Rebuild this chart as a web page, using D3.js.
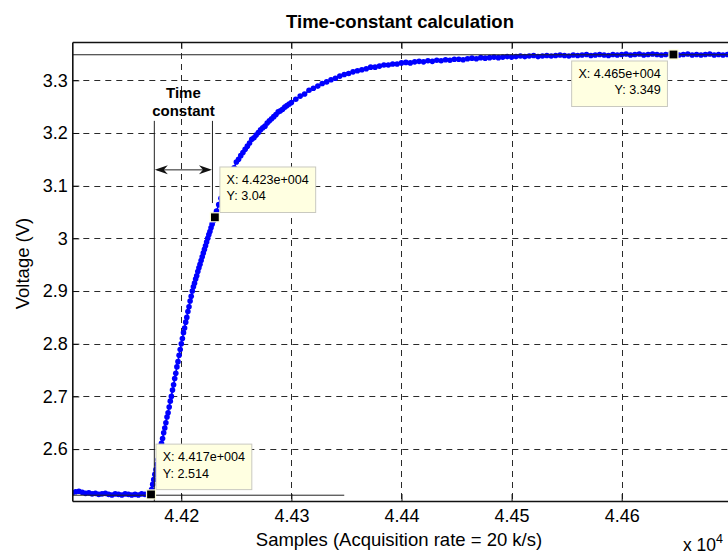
<!DOCTYPE html>
<html>
<head>
<meta charset="utf-8">
<script src="https://cdn.jsdelivr.net/npm/d3@7"></script>
<style>
  html, body { margin: 0; padding: 0; background: #fff; }
  svg { display: block; }
  text { font-family: "Liberation Sans", Arial, Helvetica, sans-serif; fill: #000; }
</style>
</head>
<body>
<svg id="chart" width="728" height="555"></svg>
<script>
// ---------------- DATA ----------------
const titleText = "Time-constant calculation";
const xLabelText = "Samples (Acquisition rate = 20 k/s)";
const yLabelText = "Voltage (V)";

const xTicks = [44200, 44300, 44400, 44500, 44600];
const xTickLabels = ["4.42", "4.43", "4.44", "4.45", "4.46"];
const yTicks = [2.6, 2.7, 2.8, 2.9, 3.0, 3.1, 3.2, 3.3];
const yTickLabels = ["2.6", "2.7", "2.8", "2.9", "3", "3.1", "3.2", "3.3"];

// baseline segment: samples 44101..44170, every 3rd sample
const baseStart = 44101, baseStep = 3;
const baseVolts = [2.517, 2.519, 2.520, 2.518, 2.516, 2.517, 2.515, 2.516, 2.514, 2.515,
                   2.516, 2.514, 2.513, 2.515, 2.514, 2.513, 2.515, 2.514, 2.513, 2.514,
                   2.513, 2.515, 2.514, 2.513];
// rise segment: samples 44171..44232, every sample
const riseStart = 44171, riseStep = 1;
const riseVolts = [2.515, 2.514, 2.523, 2.533, 2.542, 2.552, 2.561, 2.571, 2.580, 2.590,
                   2.600, 2.611, 2.620, 2.631, 2.640, 2.650, 2.661, 2.669, 2.680, 2.691,
                   2.700, 2.712, 2.722, 2.734, 2.744, 2.756, 2.766, 2.778, 2.789, 2.800,
                   2.810, 2.821, 2.830, 2.841, 2.850, 2.861, 2.870, 2.881, 2.890, 2.900,
                   2.908, 2.915, 2.923, 2.929, 2.937, 2.944, 2.951, 2.958, 2.965, 2.972,
                   2.979, 2.986, 2.993, 3.000, 3.007, 3.013, 3.020, 3.027, 3.033, 3.040,
                   3.046, 3.052];
// knee segment: samples 44234..44300, every 2nd sample
const kneeStart = 44234, kneeStep = 2;
const kneeVolts = [3.064, 3.076, 3.088, 3.100, 3.108, 3.117, 3.126, 3.134, 3.145, 3.150,
                   3.157, 3.163, 3.169, 3.175, 3.181, 3.188, 3.191, 3.196, 3.201, 3.206,
                   3.210, 3.213, 3.219, 3.223, 3.227, 3.231, 3.235, 3.240, 3.242, 3.245,
                   3.249, 3.252, 3.255, 3.258];
// plateau segment: samples 44304..44700, every 4th sample
const topStart = 44304, topStep = 4;
const topVolts = [3.264, 3.270, 3.274, 3.281, 3.285, 3.289, 3.294, 3.297, 3.301, 3.304,
                  3.308, 3.311, 3.313, 3.316, 3.318, 3.320, 3.322, 3.325, 3.325, 3.327,
                  3.329, 3.329, 3.331, 3.331, 3.333, 3.334, 3.333, 3.335, 3.336, 3.335,
                  3.337, 3.336, 3.338, 3.337, 3.339, 3.338, 3.340, 3.340, 3.339, 3.341,
                  3.342, 3.341, 3.343, 3.342, 3.343, 3.344, 3.343, 3.344, 3.345, 3.344,
                  3.345, 3.346, 3.345, 3.346, 3.347, 3.345, 3.346, 3.347, 3.346, 3.347,
                  3.348, 3.347, 3.346, 3.348, 3.347, 3.348, 3.349, 3.347, 3.348, 3.349,
                  3.348, 3.347, 3.349, 3.348, 3.349, 3.350, 3.348, 3.349, 3.350, 3.348,
                  3.349, 3.350, 3.349, 3.348, 3.349, 3.350, 3.349, 3.348, 3.349, 3.350,
                  3.348, 3.349, 3.348, 3.349, 3.350, 3.348, 3.349, 3.348, 3.349, 3.348];

// data tips (sample, voltage, placement)
const tipSamples = [44647, 44230.5, 44172.5];
const tipVolts = [3.349, 3.04, 2.514];
const tipPlacement = ["leftBelow", "rightAbove", "rightAbove"];

// annotation (data units)
const tcStartSample = 44175.5, tcEndSample = 44228.3;
const tcTopVolt = 3.223, tcEndBottomVolt = 3.067, tcArrowVolt = 3.130;
const finalLevel = 3.3485, initialLevel = 2.5125, initialLevelEnd = 44348;

// ---------------- BUILD ----------------
function seg(start, step, vals) { return vals.map((v, i) => ({ s: start + i * step, v })); }
const points = [].concat(
  seg(baseStart, baseStep, baseVolts),
  seg(riseStart, riseStep, riseVolts),
  seg(kneeStart, kneeStep, kneeVolts),
  seg(topStart, topStep, topVolts)
);

const svg = d3.select("#chart");
const L = 72.3, R = 731.8, T = 42, B = 501;
const x = d3.scaleLinear().domain([44101, 44700]).range([L, R]);
const y = d3.scaleLinear().domain([2.5015, 3.3727]).range([B, T]);

svg.append("defs").append("clipPath").attr("id", "plotclip")
  .append("rect").attr("x", L).attr("y", T).attr("width", R - L).attr("height", B - T);

// grid
const grid = svg.append("g").attr("stroke", "#2a2a2a").attr("stroke-width", 1).attr("stroke-dasharray", "6,5");
grid.selectAll("line.h").data(yTicks).join("line")
  .attr("x1", L).attr("x2", R).attr("y1", d => Math.round(y(d)) + 0.5).attr("y2", d => Math.round(y(d)) + 0.5);
grid.selectAll("line.v").data(xTicks).join("line")
  .attr("y1", T).attr("y2", B).attr("x1", d => Math.round(x(d)) + 0.5).attr("x2", d => Math.round(x(d)) + 0.5);

// curve
const plot = svg.append("g").attr("clip-path", "url(#plotclip)");
plot.append("path").datum(points)
  .attr("fill", "none").attr("stroke", "#0000ff").attr("stroke-width", 1.6)
  .attr("d", d3.line().x(d => x(d.s)).y(d => y(d.v)));
plot.selectAll("circle").data(points).join("circle")
  .attr("cx", d => x(d.s)).attr("cy", d => y(d.v)).attr("r", 2.8).attr("fill", "#0000ff");

// guide lines
const ann = svg.append("g").attr("stroke", "#222").attr("stroke-width", 1).attr("fill", "none");
ann.append("line").attr("x1", L).attr("x2", R).attr("y1", y(finalLevel)).attr("y2", y(finalLevel));
ann.append("line").attr("x1", L).attr("x2", x(initialLevelEnd)).attr("y1", y(initialLevel)).attr("y2", y(initialLevel));
ann.append("line").attr("x1", x(tcStartSample)).attr("x2", x(tcStartSample)).attr("y1", y(tcTopVolt)).attr("y2", B);
ann.append("line").attr("x1", x(tcEndSample)).attr("x2", x(tcEndSample)).attr("y1", y(tcTopVolt)).attr("y2", y(tcEndBottomVolt));
// double arrow
const ax1 = x(tcStartSample), ax2 = x(tcEndSample), ay = y(tcArrowVolt);
ann.append("line").attr("x1", ax1 + 3).attr("x2", ax2 - 3).attr("y1", ay).attr("y2", ay);
function head(tx, dir) {
  const p = d3.path();
  p.moveTo(tx, ay); p.lineTo(tx + dir * 13, ay - 4.5); p.lineTo(tx + dir * 9, ay); p.lineTo(tx + dir * 13, ay + 4.5); p.closePath();
  return p.toString();
}
svg.append("path").attr("d", head(ax1 + 0.5, 1)).attr("fill", "#111");
svg.append("path").attr("d", head(ax2 - 0.5, -1)).attr("fill", "#111");

// "Time constant" label
const tcx = (ax1 + ax2) / 2;
svg.append("text").attr("x", tcx).attr("y", 97.5).attr("text-anchor", "middle")
  .attr("font-size", 15).attr("font-weight", "bold").text("Time");
svg.append("text").attr("x", tcx).attr("y", 116).attr("text-anchor", "middle")
  .attr("font-size", 15).attr("font-weight", "bold").text("constant");

// data tips
function fmtX(s) {
  const e = s.toExponential(3);
  const [m, ex] = e.split("e");
  const sign = ex[0] === "-" ? "-" : "+";
  const digits = ex.replace(/[+-]/, "").padStart(3, "0");
  return m + "e" + sign + digits;
}
const fmtY = d3.format(".4~g");
tipSamples.forEach((s, i) => {
  const mx = x(s), my = y(tipVolts[i]);
  const g = svg.append("g");
  const l1 = "X: " + fmtX(s), l2 = "Y: " + fmtY(tipVolts[i]);
  const t1 = g.append("text").attr("font-size", 12.6).text(l1);
  const t2 = g.append("text").attr("font-size", 12.6).text(l2);
  const w = Math.max(t1.node().getComputedTextLength(), t2.node().getComputedTextLength()) + 13.5;
  const h = 45.5;
  let bx, by, anchor;
  if (tipPlacement[i] === "leftBelow") { bx = mx - 6 - w; by = my + 6.5; anchor = "end"; }
  else { bx = mx + 5; by = my - 4.8 - h; anchor = "start"; }
  g.insert("rect", "text").attr("x", bx).attr("y", by).attr("width", w).attr("height", h)
    .attr("fill", "#ffffe1").attr("stroke", "#c9c9c0").attr("stroke-width", 1);
  const tx = anchor === "end" ? bx + w - 6.7 : bx + 6.7;
  t1.attr("x", tx).attr("y", by + 16.8).attr("text-anchor", anchor).attr("fill", "#111");
  t2.attr("x", tx).attr("y", by + 33.4).attr("text-anchor", anchor).attr("fill", "#111");
  svg.append("rect").attr("x", mx - 4.5).attr("y", my - 4.5).attr("width", 9).attr("height", 9)
    .attr("fill", "#000").attr("stroke", "#ffffd8").attr("stroke-width", 1.2);
});

// axes
const fs = 18;
const gB = svg.append("g").attr("transform", `translate(0,${B})`)
  .call(d3.axisBottom(x).tickValues(xTicks).tickFormat((d, i) => xTickLabels[i]).tickSizeInner(-7).tickSizeOuter(0).tickPadding(8));
const gL = svg.append("g").attr("transform", `translate(${L},0)`)
  .call(d3.axisLeft(y).tickValues(yTicks).tickFormat((d, i) => yTickLabels[i]).tickSizeInner(-7).tickSizeOuter(0).tickPadding(4.5));
const gT = svg.append("g").attr("transform", `translate(0,${T})`)
  .call(d3.axisTop(x).tickValues(xTicks).tickFormat("").tickSizeInner(-7).tickSizeOuter(0));
[gB, gL, gT].forEach(g => {
  g.selectAll(".domain").attr("stroke", "#111").attr("stroke-width", 1.6);
  g.selectAll(".tick line").attr("stroke", "#111").attr("stroke-width", 1);
  g.selectAll(".tick text").attr("font-size", fs).attr("fill", "#111")
    .attr("font-family", '"Liberation Sans", Arial, Helvetica, sans-serif');
});

// title and labels
svg.append("text").attr("x", 400).attr("y", 28).attr("text-anchor", "middle")
  .attr("font-size", 18.5).attr("font-weight", "bold").text(titleText);
svg.append("text").attr("x", 399).attr("y", 545.5).attr("text-anchor", "middle")
  .attr("font-size", 18.5).text(xLabelText);
svg.append("text").attr("transform", `translate(29,${(T + B) / 2 - 8}) rotate(-90)`)
  .attr("text-anchor", "middle").attr("font-size", 18.5).text(yLabelText);
const ex = svg.append("text").attr("x", 683).attr("y", 550.5).attr("font-size", 17.5);
ex.append("tspan").text("x 10");
ex.append("tspan").attr("font-size", 12.5).attr("dy", -8).text("4");
</script>
</body>
</html>
